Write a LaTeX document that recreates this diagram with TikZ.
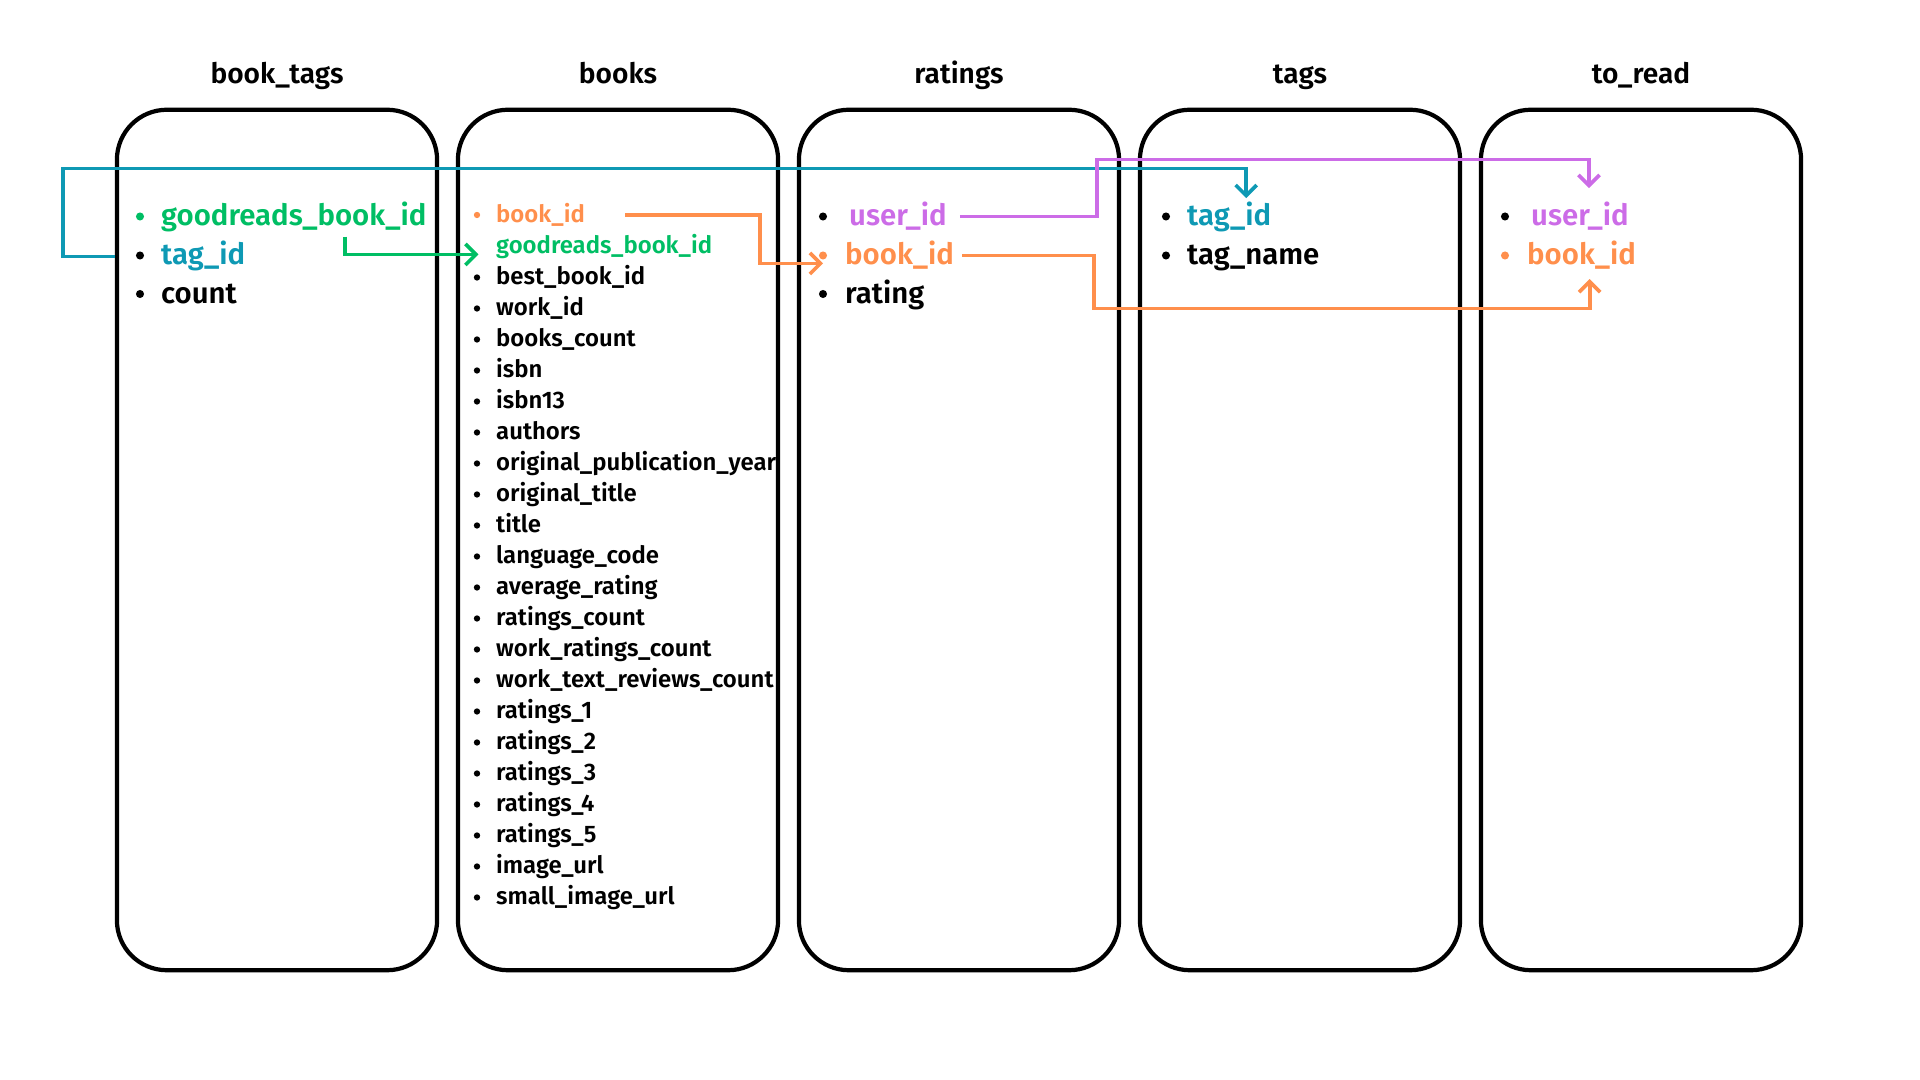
\documentclass[tikz,border=0pt]{standalone}
\usepackage{fontspec}
\setmainfont{Fira Sans}[BoldFont={Fira Sans SemiBold}]
\usetikzlibrary{arrows.meta}

\definecolor{keyteal}{RGB}{14,153,180}
\definecolor{keygreen}{RGB}{0,190,100}
\definecolor{keyorange}{RGB}{255,143,76}
\definecolor{keypurple}{RGB}{204,108,231}

\tikzset{
  table/.style={draw, line width=1.2pt, rounded corners=0.5cm, minimum width=3.2cm, minimum height=8.6cm},
  title/.style={anchor=base, font=\bfseries\fontsize{8}{9.6}\selectfont},
  field/.style={anchor=base west, inner sep=1pt, font=\bfseries\fontsize{8.35}{10}\selectfont},
  smallfield/.style={anchor=base west, inner sep=1pt, font=\bfseries\fontsize{6.8}{8.2}\selectfont},
  dot/.style={circle, fill, inner sep=0pt, minimum size=2.3pt},
  smalldot/.style={circle, fill, inner sep=0pt, minimum size=1.8pt},
  link/.style={line width=1.05pt, -{Straight Barb[length=3pt,width=6pt]}}
}

\begin{document}
\begin{tikzpicture}[x=0.01cm, y=-0.01cm]
\useasboundingbox (0,0) rectangle (1920,1080);

% the five tables
\foreach \tab/\cx/\tname in {booktags/277/book\_tags, books/618/books, ratings/959/ratings, tags/1300/tags, toread/1641/to\_read}{
  \node[table] (\tab) at (\cx,540) {};
  \node[title] (\tab-title) at (\cx,84) {\tname};
}

% book_tags
\node[dot, keygreen] (bt-goodreads-dot) at (140,216.5) {};
\node[field, text=keygreen] (bt-goodreads) at (157,226) {goodreads\_book\_id};
\node[dot] (bt-tagid-dot) at (140,255.5) {};
\node[field, text=keyteal] (bt-tagid) at (157,265) {tag\_id};
\node[dot] (bt-count-dot) at (140,294) {};
\node[field] (bt-count) at (157,304) {count};

% books
\node[smalldot, keyorange] (bk-bookid-dot) at (477,215) {};
\node[smallfield, text=keyorange] (bk-bookid) at (492,222.5) {book\_id};
\node[smallfield, text=keygreen] (bk-goodreads) at (492,253.5) {goodreads\_book\_id};
\foreach \fname [count=\i from 3] in {best\_book\_id, work\_id, books\_count, isbn, isbn13, authors,
    original\_publication\_year, original\_title, title, language\_code, average\_rating,
    ratings\_count, work\_ratings\_count, work\_text\_reviews\_count, ratings\_1, ratings\_2,
    ratings\_3, ratings\_4, ratings\_5, image\_url, small\_image\_url}{
  \node[smalldot] (bk-\i-dot) at (477,{222.5+31*(\i-1)-7}) {};
  \node[smallfield] (bk-\i) at (492,{222.5+31*(\i-1)}) {\fname};
}

% ratings
\node[dot] (rt-userid-dot) at (823,216.5) {};
\node[field, text=keypurple] (rt-userid) at (845,226) {user\_id};
\node[dot, keyorange] (rt-bookid-dot) at (823,255.5) {};
\node[field, text=keyorange] (rt-bookid) at (841,265) {book\_id};
\node[dot] (rt-rating-dot) at (823,294) {};
\node[field] (rt-rating) at (841,304) {rating};

% tags
\node[dot] (tg-tagid-dot) at (1166,216.5) {};
\node[field, text=keyteal] (tg-tagid) at (1183,226) {tag\_id};
\node[dot] (tg-tagname-dot) at (1166,255.5) {};
\node[field] (tg-tagname) at (1183,265) {tag\_name};

% to_read
\node[dot] (tr-userid-dot) at (1505,216.5) {};
\node[field, text=keypurple] (tr-userid) at (1527,226) {user\_id};
\node[dot, keyorange] (tr-bookid-dot) at (1505,255.5) {};
\node[field, text=keyorange] (tr-bookid) at (1523,265) {book\_id};

% keys
\draw[link, keyteal] (booktags.west |- bt-tagid) -- ++(-52,0) -- ++(0,-88) -| ([xshift=0.17cm]tg-tagid.north);
\draw[link, keygreen] ([xshift=0.515cm]bt-goodreads.south) |- ([xshift=-0.135cm,yshift=-0.01cm]bk-goodreads.base west);
\draw[link, keyorange] ([xshift=0.36cm]bk-bookid.east) -- ++(135,0) |- ([yshift=-0.08cm]rt-bookid-dot.center);
\draw[link, keypurple] ([xshift=0.09cm]rt-userid.east) -- ++(137,0) -- ++(0,-57) -| ([xshift=0.09cm,yshift=0.1cm]tr-userid.north);
\draw[link, keyorange] ([xshift=0.04cm]rt-bookid.east) -- ++(132,0) -- ++(0,53) -| ([xshift=0.08cm,yshift=-0.05cm]tr-bookid.south);
\end{tikzpicture}
\end{document}
